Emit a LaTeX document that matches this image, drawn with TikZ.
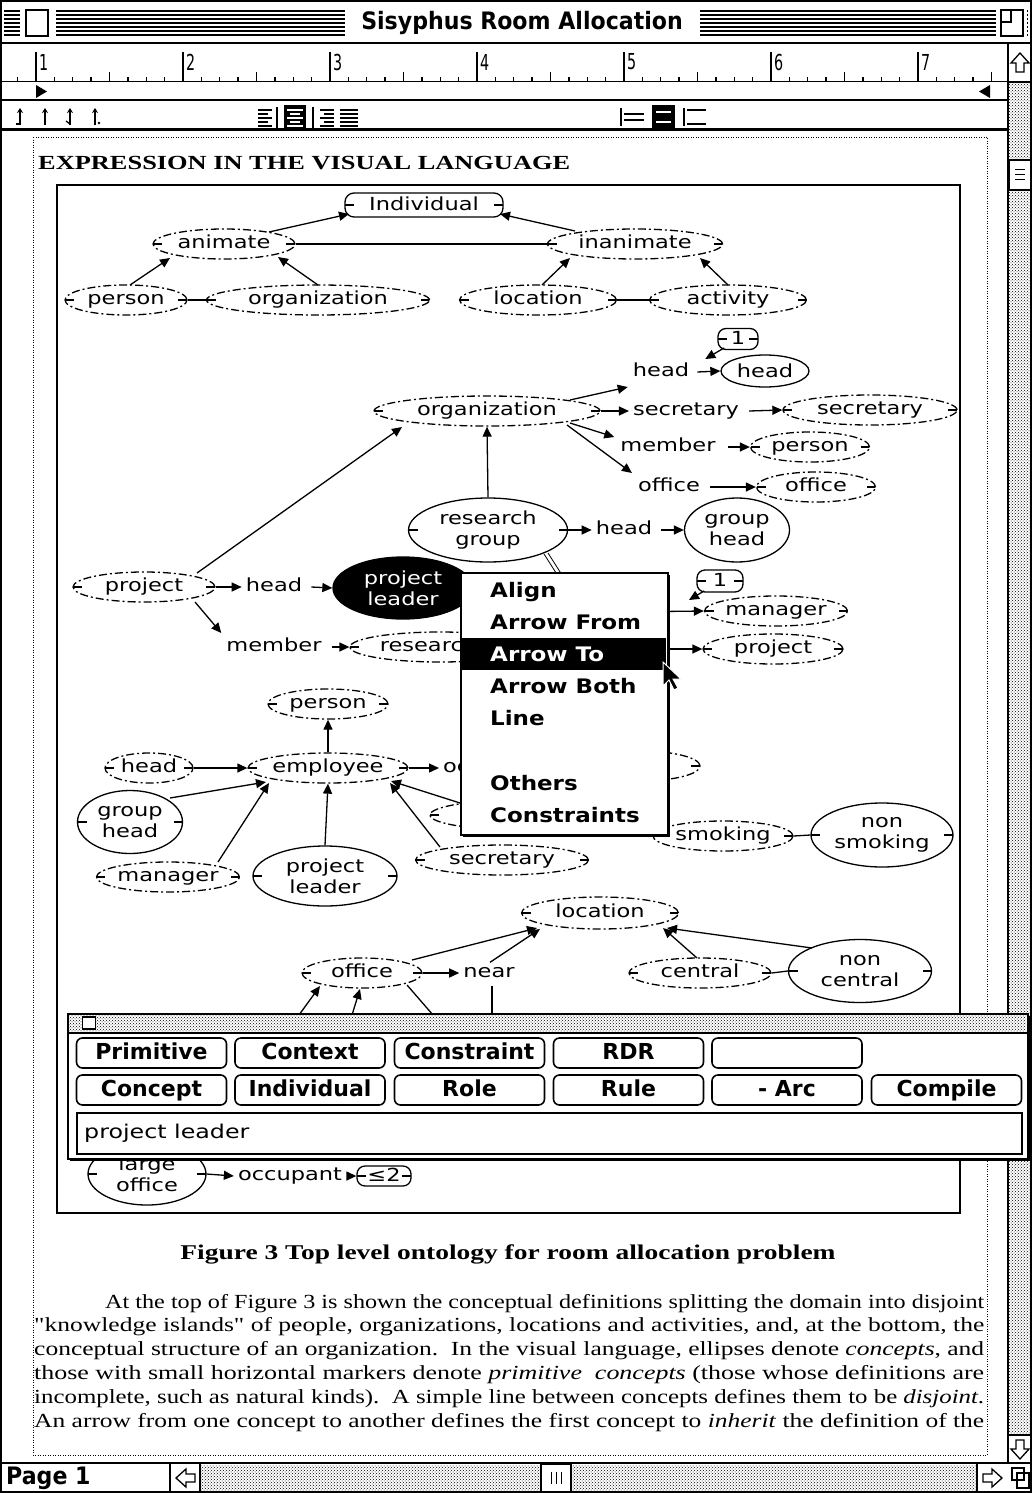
\documentclass[tikz,border=0pt]{standalone}
\usepackage{fontspec}
\usepackage{graphicx}
\usetikzlibrary{shapes.geometric,arrows.meta,calc,patterns}

\newfontfamily\genevafont[FakeStretch=1.25]{DejaVu Sans}
\newfontfamily\chicagofont{DejaVu Sans}
\newfontfamily\chicagowide[FakeStretch=1.15]{DejaVu Sans}
\newfontfamily\chicagonarrow[FakeStretch=0.92]{DejaVu Sans}
\newfontfamily\rulerfont[FakeStretch=0.65]{DejaVu Sans}
\newfontfamily\paperfont{Liberation Serif}
\newcommand\lblfont{\genevafont\fontsize{18}{21}\selectfont}
\newcommand\menufont{\chicagowide\bfseries\fontsize{20}{24}\selectfont}
\newcommand\btnfont{\chicagofont\bfseries\fontsize{22}{26}\selectfont}
\newcommand\bodyline[2]{\resizebox{#1}{\height}{\paperfont\fontsize{20}{24}\selectfont #2}}

\tikzset{
  lw/.style={line width=1.3pt},
  pmark/.style={path picture={\draw[solid,line width=1.3pt]
      (path picture bounding box.west) -- ++(9pt,0pt)
      (path picture bounding box.east) -- ++(-9pt,0pt);}},
  pe/.style={ellipse, draw, lw, dash pattern=on 8pt off 3pt on 2pt off 3pt,
      fill=white, font=\lblfont, minimum height=30pt, inner sep=0pt,
      text height=13pt, text depth=4pt, pmark},
  se/.style={ellipse, draw, lw, fill=white, font=\lblfont, align=center, inner sep=0pt},
  card/.style={draw, lw, rounded corners=8pt, fill=white, font=\lblfont,
      minimum height=21pt, inner sep=0pt, text height=13pt, text depth=2pt, pmark},
  role/.style={font=\lblfont, inner sep=0pt, text height=13pt, text depth=4pt},
  arr/.style={lw, -{Triangle[length=10pt,width=9pt]}},
  menuitem/.style={font=\menufont, anchor=base west, inner sep=0pt},
  btn/.style={draw, line width=1.6pt, rounded corners=6pt, minimum width=150pt,
      minimum height=30pt, font=\btnfont, inner sep=0pt, fill=white,
      text height=16pt, text depth=4pt},
  graypat/.style={pattern=crosshatch dots, pattern color=black},
  uparr/.pic={\draw[line width=1.3pt, fill=white] (0,-10) -- (9,0) -- (4,0) -- (4,9)
      -- (-4,9) -- (-4,0) -- (-9,0) -- cycle;},
}

\begin{document}
\begin{tikzpicture}[x=1pt,y=-1pt]
\useasboundingbox (0,0) rectangle (1032,1493);
\fill[white] (0,0) rectangle (1032,1493);

% ---------- window title bar
\foreach \yy in {11,15,19,23,27,31,35} \draw[line width=1.6pt] (4,\yy) -- (1028,\yy);
\fill[white] (20,6) rectangle (56,40);
\draw[line width=1.6pt] (26,10) rectangle (48,36);
\fill[white] (345,6) rectangle (700,40);
\node[font=\chicagonarrow\bfseries\fontsize{24}{28}\selectfont, inner sep=0pt] (wtitle) at (522,23) {Sisyphus Room Allocation};
\fill[white] (996,6) rectangle (1027,40);
\draw[line width=1.6pt] (1001,10) rectangle (1023,36);
\draw[line width=1.6pt] (1001,10) rectangle (1011,22);
\draw[line width=2pt] (0,43) -- (1032,43);

% ---------- ruler
\foreach \k in {0,...,6} {
  \pgfmathsetmacro\xx{36+147*\k}
  \draw[lw] (\xx,52) -- (\xx,82);
  \node[font=\rulerfont\fontsize{22}{24}\selectfont, anchor=west, inner sep=0pt] (rn\k) at (\xx+3,62) {\the\numexpr\k+1\relax};
}
\foreach \t in {0,...,53} {
  \pgfmathsetmacro\tx{17.625+18.375*\t}
  \pgfmathtruncatemacro\m{mod(\t+7,8)}
  \ifnum\m=0\relax\else
    \pgfmathsetmacro\ty{\m==4 ? 72 : 77}
    \draw[lw] (\tx,\ty) -- (\tx,82);
  \fi
}
\draw[line width=1pt] (0,82) -- (1008,82);
\fill (36,85) -- (47,91.5) -- (36,98) -- cycle;
\fill (990,85) -- (979,91.5) -- (990,98) -- cycle;
\draw[line width=2.5pt] (0,100) -- (1008,100);

% ---------- tool bar: tabs, alignment, spacing
\foreach \xx in {20,45,70,95} \draw[lw, -{Stealth[length=5pt,width=6pt]}] (\xx,125) -- (\xx,108);
\draw[lw] (20,124) -- (16,124);
\draw[lw] (70,124) -- (66,121);
\fill (99,123) circle (1.3pt);
% left aligned
\foreach \yy/\ll in {110/14,114/10,118/14,122/10,126/14} \draw[lw] (258,\yy) -- ++(\ll,0);
\draw[lw] (277,107) -- (277,128);
% centred (selected)
\fill (284,105) rectangle (306,129);
\foreach \yy/\ll in {110/8,114/5,118/8,122/5,126/8} \draw[white, lw] (295-\ll,\yy) -- (295+\ll,\yy);
% right aligned
\draw[lw] (313,107) -- (313,128);
\foreach \yy/\ll in {110/14,114/10,118/14,122/10,126/14} \draw[lw] (334,\yy) -- ++(-\ll,0);
% justified
\foreach \yy in {110,114,118,122,126} \draw[lw] (340,\yy) -- (358,\yy);
% line spacing
\draw[lw] (621,108) -- (621,126);
\draw[lw] (624,114) -- (644,114); \draw[lw] (624,120) -- (644,120);
\fill (652,105) rectangle (675,129);
\draw[white, lw] (656,112) -- (671,112); \draw[white, lw] (656,122) -- (671,122);
\draw[lw] (684,108) -- (684,126);
\draw[lw] (687,110) -- (706,110); \draw[lw] (687,124) -- (706,124);
\draw[line width=3pt] (0,129.5) -- (1008,129.5);

% ---------- vertical scroll bar
\fill[graypat] (1009,82) rectangle (1031,1435);
\draw[line width=1.5pt] (1008,43) -- (1008,1463);
\draw[lw] (1008,82) -- (1032,82);
\draw[lw] (1008,1435) -- (1032,1435);
\pic at (1020,63) {uparr};
\pic[rotate=180] at (1020,1449) {uparr};
\node[draw, fill=white, lw, minimum width=21pt, minimum height=30pt] (vthumb) at (1020,175) {};
\foreach \yy in {169,174,179} \draw (1015,\yy) -- (1025,\yy);

% ---------- bottom bar
\draw[line width=2pt] (0,1463) -- (1032,1463);
\node[font=\chicagonarrow\bfseries\fontsize{24}{28}\selectfont, anchor=west, inner sep=0pt] (pagelbl) at (6,1478) {Page 1};
\draw[lw] (170,1463) -- (170,1493);
\pic[rotate=90] at (186,1478) {uparr};
\draw[lw] (200,1463) -- (200,1493);
\fill[graypat] (201,1465) rectangle (976,1491);
\draw[lw] (977,1463) -- (977,1493);
\pic[rotate=-90] at (992,1478) {uparr};
\node[draw, fill=white, lw, minimum width=30pt, minimum height=27pt] (hthumb) at (556,1478) {};
\foreach \xx in {551,556,561} \draw (\xx,1472) -- (\xx,1484);
\draw[lw] (1012,1468) rectangle (1024,1480);
\draw[lw] (1017,1473) rectangle (1029,1488);
\draw[line width=2pt] (1,1) rectangle (1031,1492);

% ---------- page
\draw[line width=0.8pt, dash pattern=on 1pt off 1.5pt] (33,137) rectangle (987,1455);
\node[anchor=base west, inner sep=0pt] (hdg) at (38,169)
  {\resizebox{532pt}{\height}{\paperfont\bfseries\fontsize{20}{24}\selectfont EXPRESSION IN THE VISUAL LANGUAGE}};
\draw[lw] (57,185) rectangle (960,1213);

% ---------- top level ontology
\node[card, rounded corners=9pt, minimum width=158pt, minimum height=24pt] (ind) at (424,205) {Individual};
\node[pe, minimum width=142pt] (anim) at (224,244) {animate};
\node[pe, minimum width=175pt] (inan) at (635,244) {inanimate};
\node[pe, minimum width=122pt] (per1) at (126,300) {person};
\node[pe, minimum width=223pt] (org1) at (318,300) {organization};
\node[pe, minimum width=157pt] (loc1) at (538,300) {location};
\node[pe, minimum width=157pt] (act1) at (728,300) {activity};
\draw[lw] (anim.east) -- (inan.west);
\draw[lw] (per1.east) -- (org1.west);
\draw[lw] (loc1.east) -- (act1.west);
\draw[arr] ($(anim)+(45,-12)$) -- ($(ind)+(-75,9)$);
\draw[arr] ($(inan)+(-60,-13)$) -- ($(ind)+(76,9)$);
\draw[arr] ($(per1)+(4,-15)$) -- ($(anim)+(-54,14)$);
\draw[arr] ($(org1)+(0,-15)$) -- ($(anim)+(54,13)$);
\draw[arr] ($(loc1)+(4,-15)$) -- ($(inan)+(-65,14)$);
\draw[arr] ($(act1)+(0,-15)$) -- ($(inan)+(65,14)$);

% ---------- organization and its roles
\node[card, minimum width=40pt] (one1) at (738,339) {1};
\node[role] (rhead) at (661,372) {head};
\node[se, minimum width=88pt, minimum height=32pt] (vhead) at (765,371) {head};
\node[pe, minimum width=226pt] (org2) at (487,411) {organization};
\node[role] (rsec) at (686,411) {secretary};
\node[pe, minimum width=174pt] (vsec) at (870,410) {secretary};
\node[role] (rmem) at (668,447) {member};
\node[pe, minimum width=119pt] (vper) at (810,447) {person};
\node[role] (roff) at (669,487) {office};
\node[pe, minimum width=119pt] (voff) at (816,487) {office};
\draw[arr] ($(org2)+(83,-11)$) -- ($(rhead.west)+(-5,15)$);
\draw[arr] (org2.east) -- ($(rsec.west)+(-4,0)$);
\draw[arr] ($(org2)+(83,12)$) -- ($(rmem.west)+(-6,-10)$);
\draw[arr] ($(org2)+(80,14)$) -- ($(roff.west)+(-6,-14)$);
\draw[arr] ($(rhead.east)+(8,0)$) -- (vhead.west);
\draw[arr] ($(rsec.east)+(10,0)$) -- (vsec.west);
\draw[arr] ($(rmem.east)+(12,0)$) -- (vper.west);
\draw[arr] ($(roff.east)+(10,0)$) -- (voff.west);
\draw[arr] ($(one1)+(-14,9)$) -- ($(rhead.east)+(16,-13)$);

\node[se, pmark, minimum width=159pt, minimum height=64pt] (rgrp) at (488,530) {research\\group};
\node[role] (rhead2) at (624,530) {head};
\node[se, minimum width=105pt, minimum height=64pt] (gh1) at (737,530) {group\\head};
\draw[arr] (rgrp.north) -- (org2.south);
\draw[arr] (rgrp.east) -- ($(rhead2.west)+(-4,0)$);
\draw[arr] ($(rhead2.east)+(9,0)$) -- (gh1.west);

% ---------- project
\node[pe, minimum width=142pt] (proj1) at (144,587) {project};
\node[role] (rhead3) at (274,587) {head};
\node[se, fill=black, text=white, minimum width=140pt, minimum height=62pt] (pl1) at (403,588) {project\\leader};
\node[role] (rmem2) at (274,647) {member};
\node[pe, minimum width=180pt] (res1) at (440,647) {researcher};
\draw[arr] ($(proj1)+(53,-14)$) -- ($(org2)+(-85,16)$);
\draw[arr] (proj1.east) -- ($(rhead3.west)+(-4,0)$);
\draw[arr] ($(rhead3.east)+(9,0)$) -- (pl1.west);
\draw[arr] ($(proj1)+(51,15)$) -- ($(rmem2.west)+(-5,-14)$);
\draw[arr] ($(rmem2.east)+(10,0)$) -- (res1.west);
% link being dragged towards the menu
\draw[line width=0.8pt] ($(rgrp)+(56,24)$) -- ($(rgrp)+(70,46)$);
\draw[line width=0.8pt] ($(rgrp)+(60,23)$) -- ($(rgrp)+(74,45)$);

\node[card, minimum width=46pt, minimum height=22pt] (one2) at (720,581) {1};
\node[pe, minimum width=142pt] (mgr1) at (776,611) {manager};
\node[pe, minimum width=140pt] (proj2) at (773,649) {project};
\coordinate (hidA) at (620,612);
\coordinate (hidB) at (620,649);
\coordinate (cardA) at (689,600);
\draw[arr] (hidA) -- (mgr1.west);
\draw[arr] (hidB) -- (proj2.west);
\draw[arr] ($(one2)+(-16,10)$) -- (cardA);

% ---------- employee
\node[pe, minimum width=120pt] (per2) at (328,704) {person};
\node[pe, minimum width=160pt] (emp) at (328,768) {employee};
\node[pe, minimum width=88pt] (head2) at (149,768) {head};
\node[se, pmark, minimum width=105pt, minimum height=63pt] (gh2) at (130,822) {group\\head};
\node[pe, minimum width=143pt] (mgr2) at (168,877) {manager};
\node[se, pmark, minimum width=144pt, minimum height=60pt] (pl2) at (325,876) {project\\leader};
\node[pe, minimum width=173pt] (sec2) at (502,860) {secretary};
\node[pe, minimum width=180pt] (res2) at (520,815) {};
\node[role, anchor=west] (rocc) at (443,768) {occupies};
\node[pe, minimum width=120pt] (off2) at (640,766) {office};
\node[pe, minimum width=140pt] (smk) at (723,836) {smoking};
\node[se, pmark, minimum width=142pt, minimum height=64pt] (nsmk) at (882,835) {non\\smoking};
\draw[lw] (smk.east) -- (nsmk.west);
\draw[arr] (emp.north) -- (per2.south);
\draw[arr] (head2.east) -- (emp.west);
\draw[arr] (emp.east) -- ($(rocc.west)+(-4,0)$);
\draw[arr] ($(rocc.east)+(8,0)$) -- (off2.west);
\draw[arr] ($(gh2)+(40,-24)$) -- ($(emp)+(-62,14)$);
\draw[arr] ($(mgr2)+(50,-15)$) -- ($(emp)+(-59,15)$);
\draw[arr] (pl2.north) -- (emp.south);
\draw[arr] ($(sec2)+(-62,-13)$) -- ($(emp)+(62,15)$);
\draw[arr] ($(res2)+(-60,-12)$) -- ($(emp)+(63,13)$);

% ---------- location
\node[pe, minimum width=157pt, minimum height=32pt] (loc2) at (600,913) {location};
\node[pe, minimum width=120pt] (off3) at (362,973) {office};
\node[role] (rnear) at (489,973) {near};
\node[pe, minimum width=142pt] (cen) at (700,973) {central};
\node[se, pmark, minimum width=143pt, minimum height=63pt] (ncen) at (860,971) {non\\central};
\coordinate (nearDown) at (492,1015);
\coordinate (offA) at (299,1015);
\coordinate (offB) at (352,1015);
\coordinate (offC) at (433,1015);
\draw[arr] ($(off3)+(50,-13)$) -- ($(loc2)+(-63,15)$);
\draw[arr] ($(rnear.north)+(1,-2)$) -- ($(loc2)+(-60,16)$);
\draw[arr] (off3.east) -- ($(rnear.west)+(-4,0)$);
\draw[lw] ($(rnear.south)+(3,4)$) -- (nearDown);
\draw[arr] ($(cen)+(-3,-15)$) -- ($(loc2)+(63,15)$);
\draw[arr] ($(ncen)+(-48,-23)$) -- ($(loc2)+(67,15)$);
\draw[lw] (cen.east) -- (ncen.west);
\draw[arr] (offA) -- ($(off3)+(-42,13)$);
\draw[arr] (offB) -- ($(off3)+(-2,16)$);
\draw[lw] ($(off3)+(45,12)$) -- (offC);

% ---------- large office
\node[se, pmark, minimum width=118pt, minimum height=62pt] (lgoff) at (147,1174) {large\\office};
\node[role] (rocc2) at (290,1176) {occupant};
\node[card, minimum width=54pt, minimum height=20pt] (le2) at (384,1176) {≤2};
\draw[arr] (lgoff.east) -- ($(rocc2.west)+(-4,0)$);
\draw[arr] ($(rocc2.east)+(8,0)$) -- (le2.west);

% ---------- pop-up menu
\fill (463,575) rectangle (670,837);
\node[draw, fill=white, line width=1.5pt, minimum width=207pt, minimum height=262pt, anchor=north west, inner sep=0pt] (menu) at (460,572) {};
\node[fill=black, anchor=north west, minimum width=205pt, minimum height=32pt, inner sep=0pt] (mhl) at (461,638) {};
\node[menuitem] (m1) at (490,597) {Align};
\node[menuitem] (m2) at (490,629) {Arrow From};
\node[menuitem, text=white] (m3) at (490,661) {Arrow To};
\node[menuitem] (m4) at (490,693) {Arrow Both};
\node[menuitem] (m5) at (490,725) {Line};
\node[menuitem] (m6) at (490,790) {Others};
\node[menuitem] (m7) at (490,822) {Constraints};
% mouse pointer
\draw[fill=black, draw=white, line width=1pt, line join=miter]
  (663,662) -- ++(0,24) -- ++(6,-6) -- ++(5,10) -- ++(4,-2) -- ++(-5,-9) -- ++(8,0) -- cycle;

% ---------- palette window
\fill (70,1016) rectangle (1030,1161);
\node[draw, fill=white, line width=1.5pt, anchor=north west, minimum width=960pt, minimum height=145pt, inner sep=0pt] (pal) at (67,1013) {};
\fill[graypat] (68,1014) rectangle (1026,1033);
\draw[line width=1.5pt] (67,1033) -- (1027,1033);
\node[draw, fill=white, lw, minimum width=13pt, minimum height=12pt, inner sep=0pt] (palclose) at (89,1023) {};
\node[btn] (bPrim) at (151.5,1053) {Primitive};
\node[btn] (bCtx) at (310,1053) {Context};
\node[btn] (bCons) at (469.5,1053) {Constraint};
\node[btn] (bRDR) at (628.5,1053) {RDR};
\node[btn] (bBlank) at (787,1053) {};
\node[btn] (bConc) at (151.5,1090) {Concept};
\node[btn] (bInd) at (310,1090) {Individual};
\node[btn] (bRole) at (469.5,1090) {Role};
\node[btn] (bRule) at (628.5,1090) {Rule};
\node[btn] (bArc) at (787,1090) {- Arc};
\node[btn] (bComp) at (946.5,1090) {Compile};
\node[draw, line width=1.6pt, anchor=north west, minimum width=945pt, minimum height=41pt, inner sep=0pt] (fld) at (76,1112) {};
\node[anchor=west, inner sep=0pt, font=\genevafont\fontsize{19}{22}\selectfont] (fldtxt) at (84,1133) {project leader};

% ---------- caption and body text
\node[inner sep=0pt] (cap) at (508,1254)
  {\resizebox{655pt}{\height}{\paperfont\bfseries\fontsize{21}{24}\selectfont Figure 3 Top level ontology for room allocation problem}};
\node[anchor=base west, inner sep=0pt] (p1) at (105,1308)
  {\bodyline{879pt}{At the top of Figure 3 is shown the conceptual definitions splitting the domain into disjoint}};
\node[anchor=base west, inner sep=0pt] (p2) at (34,1331)
  {\bodyline{950pt}{"knowledge islands" of people, organizations, locations and activities, and, at the bottom, the}};
\node[anchor=base west, inner sep=0pt] (p3) at (34,1355)
  {\bodyline{950pt}{conceptual structure of an organization.\ \ In the visual language, ellipses denote \textit{concepts}, and}};
\node[anchor=base west, inner sep=0pt] (p4) at (34,1379)
  {\bodyline{950pt}{those with small horizontal markers denote \textit{primitive\ \ concepts} (those whose definitions are}};
\node[anchor=base west, inner sep=0pt] (p5) at (34,1403)
  {\bodyline{950pt}{incomplete, such as natural kinds).\ \ A simple line between concepts defines them to be \textit{disjoint}.}};
\node[anchor=base west, inner sep=0pt] (p6) at (34,1427)
  {\bodyline{950pt}{An arrow from one concept to another defines the first concept to \textit{inherit} the definition of the}};
\end{tikzpicture}
\end{document}
